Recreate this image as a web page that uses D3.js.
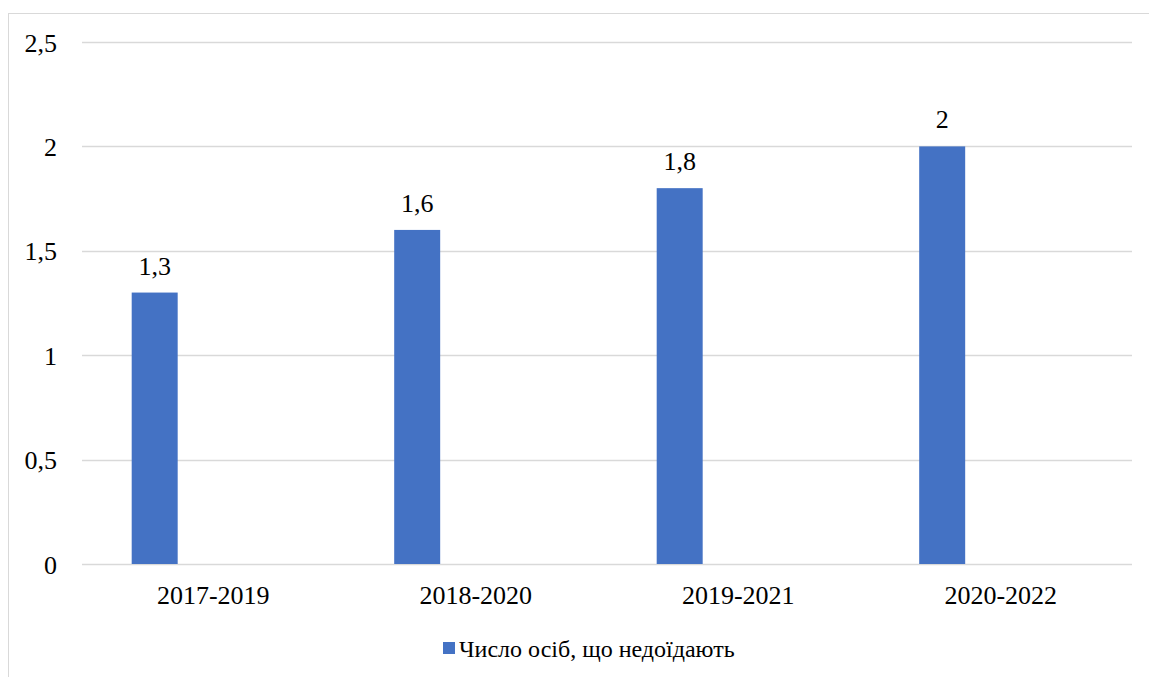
<!DOCTYPE html>
<html><head><meta charset="utf-8">
<script src="https://cdn.jsdelivr.net/npm/d3@7"></script>
<style>body{margin:0;background:#fff;}svg{display:block;}</style>
</head><body><svg id="c" width="1149" height="677" font-family="'Liberation Serif', 'Times New Roman', serif"></svg>
<script>
const categories = ["2017-2019","2018-2020","2019-2021","2020-2022"];
const values = [1.3,1.6,1.8,2];
const seriesName = "Число осіб, що недоїдають";
const yTicks = [0,0.5,1,1.5,2,2.5];
const fmt = v => String(v).replace(".", ",");
const FF = "'Liberation Serif', 'Times New Roman', serif";

(function(){
const svg = d3.select("#c");
svg.append("rect").attr("x",8.5).attr("y",13.5).attr("width",1160).attr("height",700)
  .attr("fill","#fff").attr("stroke","#d9d9d9").attr("stroke-width",1);

const pL=82, pR=1132, pT=42, pB=564;
const x = d3.scaleBand().domain(categories).range([pL,pR]).padding(0);
const y = d3.scaleLinear().domain([0,2.5]).range([pB,pT]);

const g = svg.append("g");
g.selectAll(".grid").data(yTicks).join("line")
  .attr("x1",pL).attr("x2",pR)
  .attr("y1",d=>Math.round(y(d))+0.5).attr("y2",d=>Math.round(y(d))+0.5)
  .attr("stroke","#d9d9d9").attr("stroke-width",1.5);

const yAxis = d3.axisLeft(y).tickValues(yTicks).tickFormat(fmt).tickSize(0).tickPadding(0);
const ya = svg.append("g").attr("transform","translate(57,0)").call(yAxis);
ya.attr("font-family",FF).attr("font-size",26);
ya.select(".domain").remove();
ya.selectAll("text").attr("font-family",FF).attr("font-size",26).attr("fill","#000").attr("dy","0.35em");

const xAxis = d3.axisBottom(x).tickSize(0).tickPadding(0);
const xa = svg.append("g").attr("transform",`translate(0,${pB})`).call(xAxis);
xa.attr("font-family",FF).attr("font-size",26);
xa.select(".domain").remove();
xa.selectAll("text").attr("font-family",FF).attr("font-size",26).attr("fill","#000").attr("dy",null).attr("y",40);

const bw = x.bandwidth();
const barOff = 0.1893, barW = 0.1752;
g.selectAll(".bar").data(values).join("rect")
  .attr("x",(d,i)=>x(categories[i])+bw*barOff)
  .attr("width",bw*barW)
  .attr("y",d=>y(d)).attr("height",d=>y(0)-y(d))
  .attr("fill","#4472c4");

g.selectAll(".lbl").data(values).join("text")
  .attr("x",(d,i)=>x(categories[i])+bw*(barOff+barW/2))
  .attr("y",d=>y(d)-18)
  .attr("text-anchor","middle").attr("font-family",FF).attr("font-size",26).attr("fill","#000")
  .text(fmt);

const lg = svg.append("g");
lg.append("rect").attr("x",443).attr("y",642).attr("width",12).attr("height",12).attr("fill","#4472c4");
lg.append("text").attr("x",459).attr("y",657).attr("font-family",FF).attr("font-size",24).attr("fill","#000").text(seriesName);
})();
</script></body></html>
